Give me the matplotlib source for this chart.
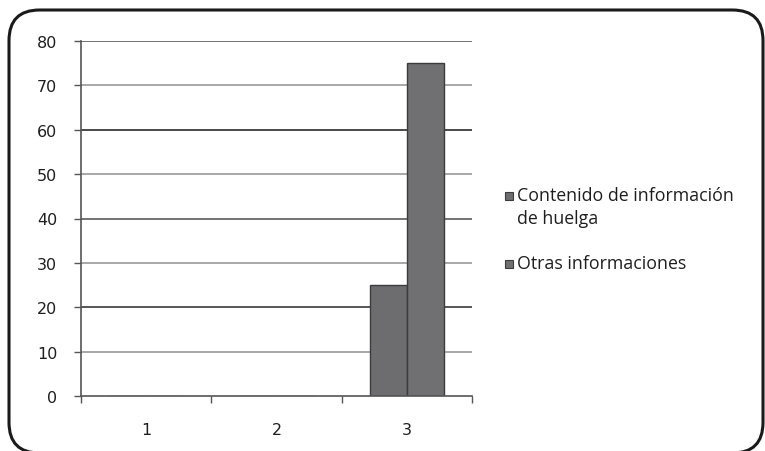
import matplotlib
matplotlib.use('Agg')
import matplotlib.pyplot as plt
from matplotlib.patches import FancyBboxPatch, Rectangle
import numpy as np

# data
categories = ['1', '2', '3']
series_names = ['Contenido de información\nde huelga', 'Otras informaciones']
huelga = [0, 0, 25]
otras = [0, 0, 75]
y_ticks = [0, 10, 20, 30, 40, 50, 60, 70, 80]

bar_colors = ['#6d6d6f', '#707073']
edge_color = '#3c3c3e'
# scanned gridlines alternate in darkness
grid_colors = ['#5a5a5a', '#9a9a9a', '#3a3a3a', '#9a9a9a', '#5a5a5a',
               '#9a9a9a', '#2a2a2a', '#9a9a9a', '#5a5a5a']

W, H = 765, 452
fig = plt.figure(figsize=(W / 100, H / 100), dpi=100)
ax = fig.add_axes([81 / W, 1 - 397 / H, (472 - 81) / W, (397 - 42) / H])

x = np.arange(len(categories))
w = 1 / 3.5
ax.bar(x - w / 2, huelga, width=w, color=bar_colors[0], edgecolor=edge_color, linewidth=1.0, zorder=3)
ax.bar(x + w / 2, otras, width=w, color=bar_colors[1], edgecolor=edge_color, linewidth=1.0, zorder=3)

ax.set_xlim(-0.5, len(categories) - 0.5)
ax.set_ylim(0, 80)
ax.set_yticks(y_ticks)
ax.set_yticklabels([str(t) for t in y_ticks], fontsize=11.5, color='#1e1e1e')
for t, c in zip(y_ticks, grid_colors):
    if t > 0:
        ax.axhline(t, color=c, linewidth=1.2, zorder=1)

ax.set_xticks(x)
ax.set_xticklabels(categories, fontsize=11.5, color='#1e1e1e')
ax.set_xticks(np.arange(len(categories) + 1) - 0.5, minor=True)
ax.tick_params(axis='x', which='major', length=0, pad=19)
ax.tick_params(axis='x', which='minor', length=5, width=1, color='#555555', direction='out')
ax.tick_params(axis='y', length=5, width=1, color='#555555', pad=12)

for s in ['top', 'right']:
    ax.spines[s].set_visible(False)
for s in ['left', 'bottom']:
    ax.spines[s].set_color('#555555')
    ax.spines[s].set_linewidth(1.2)
ax.spines['bottom'].set_zorder(4)

# legend drawn by hand so the square sits on the first line
leg_y = [197, 265]
for name, col, yy in zip(series_names, bar_colors, leg_y):
    fig.patches.append(Rectangle((505 / W, 1 - (yy + 4) / H), 8 / W, 8 / H,
                                 transform=fig.transFigure, facecolor=col,
                                 edgecolor=edge_color, linewidth=0.8))
    fig.text(517 / W, 1 - (yy - 10) / H, name, fontsize=12.8, family='Open Sans',
             color='#1e1e1e', va='top', ha='left', linespacing=1.38)

# rounded frame around the chart, bottom edge runs just off the picture
frame = FancyBboxPatch((9 / W, 1 - 454 / H), (763 - 9) / W, (454 - 11) / H,
                       boxstyle='round,pad=0,rounding_size=0.04',
                       transform=fig.transFigure, facecolor='none',
                       edgecolor='#1a1a1a', linewidth=2.2,
                       mutation_aspect=W / H)
fig.patches.append(frame)

fig.savefig('out.png', dpi=100)
